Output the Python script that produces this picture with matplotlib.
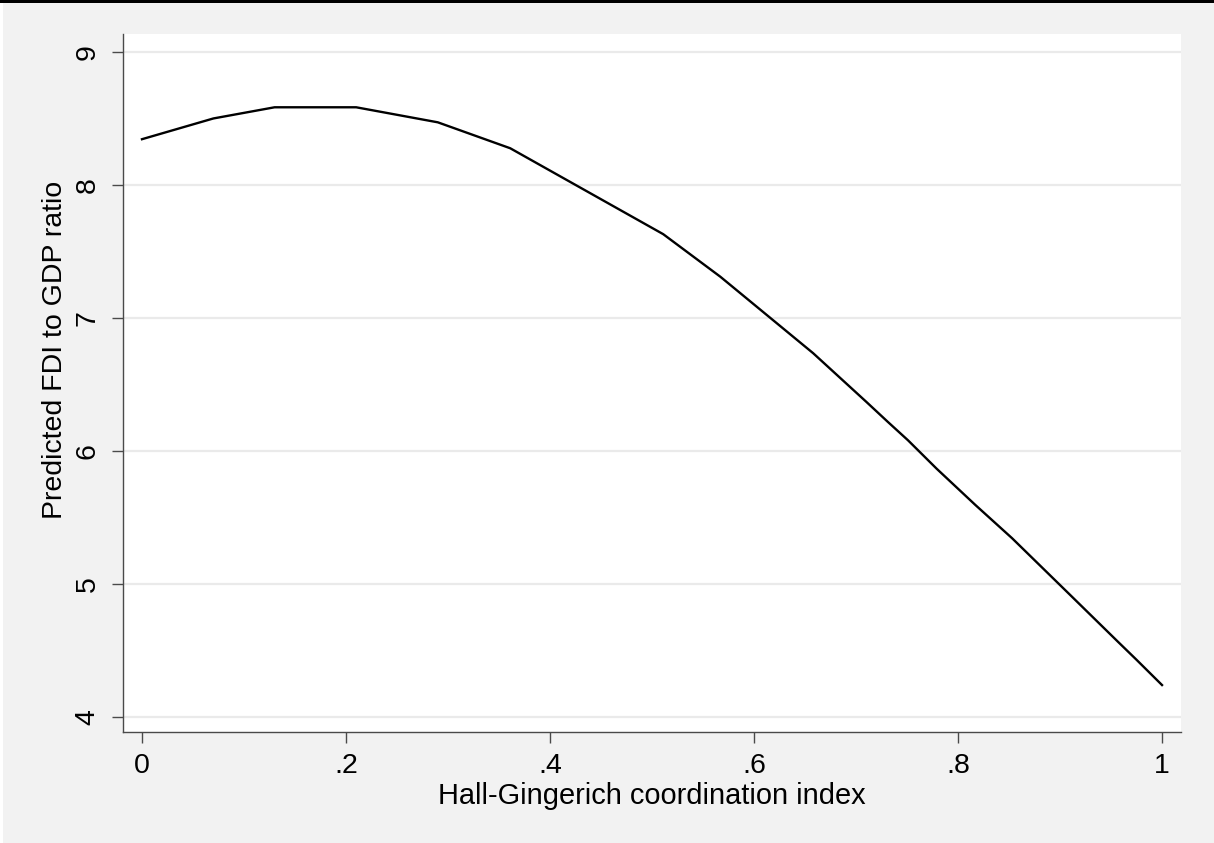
import matplotlib
matplotlib.use("Agg")
import matplotlib.pyplot as plt
from matplotlib.patches import Rectangle

# Predicted FDI/GDP ratio across the Hall-Gingerich coordination index
coord_index = [0.0, 0.070, 0.130, 0.210, 0.290, 0.361, 0.511, 0.567, 0.658,
               0.710, 0.731, 0.751, 0.779, 0.817, 0.853, 0.910, 0.957, 0.975, 1.0]
predicted_fdi = [8.344, 8.50, 8.584, 8.584, 8.471, 8.276, 7.63, 7.31, 6.735,
                 6.37, 6.22, 6.08, 5.867, 5.594, 5.344, 4.917, 4.564, 4.43, 4.24]

x_ticks = [0, 0.2, 0.4, 0.6, 0.8, 1.0]
x_tick_labels = ["0", ".2", ".4", ".6", ".8", "1"]
y_ticks = [4, 5, 6, 7, 8, 9]
y_tick_labels = ["4", "5", "6", "7", "8", "9"]

plt.rcParams["font.family"] = ["Liberation Sans", "DejaVu Sans"]

W, H = 1214, 843
fig = plt.figure(figsize=(W / 100, H / 100), dpi=100)
fig.patch.set_facecolor("#F2F2F2")

# thin white strip on the left and black rule across the top
fig.patches.append(Rectangle((0, 0), 3 / W, 1, transform=fig.transFigure,
                             facecolor="white", edgecolor="none", zorder=0))
fig.patches.append(Rectangle((0, 1 - 3 / H), 1, 3 / H, transform=fig.transFigure,
                             facecolor="black", edgecolor="none", zorder=0))

left, right = 123 / W, 1181 / W
bottom, top = (H - 732) / H, (H - 34) / H
ax = fig.add_axes([left, bottom, right - left, top - bottom])
ax.set_facecolor("white")

ax.plot(coord_index, predicted_fdi, color="black", linewidth=1.7,
        solid_joinstyle="round", zorder=3)

ax.set_xlim(-0.0186, 1.0186)
ax.set_ylim(3.887, 9.135)

ax.set_xticks(x_ticks)
ax.set_xticklabels(x_tick_labels)
ax.set_yticks(y_ticks)
ax.set_yticklabels(y_tick_labels, rotation=90, va="center")

ax.yaxis.grid(True, color="#EAEAEA", linewidth=1.6)
ax.xaxis.grid(False)
ax.set_axisbelow(True)

for side in ("top", "right"):
    ax.spines[side].set_visible(False)
for side in ("left", "bottom"):
    ax.spines[side].set_color("#4A4A4A")
    ax.spines[side].set_linewidth(1.0)

ax.tick_params(axis="both", colors="#4A4A4A", labelcolor="black",
               labelsize=20.5, length=8, width=1.0)
ax.tick_params(axis="x", pad=7)
ax.tick_params(axis="y", pad=8)

ax.set_xlabel("Hall-Gingerich coordination index", fontsize=20.9, labelpad=2)
ax.set_ylabel("Predicted FDI to GDP ratio", fontsize=20.5)
ax.yaxis.set_label_coords(-0.052, 0.547)

fig.savefig("out.png", dpi=100, facecolor=fig.get_facecolor())
